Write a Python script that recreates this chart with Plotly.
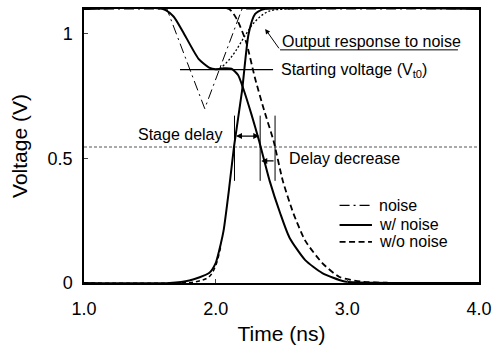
import plotly.graph_objects as go

# ---- data (time in ns, voltage in V) ----
noise_t = [1.0, 1.63, 1.917, 2.2, 4.0]
noise_v = [1.1, 1.1, 0.70, 1.1, 1.1]

wn_t = [1.0, 1.6, 1.68, 1.75, 1.87, 1.95, 2.0, 2.06, 2.12, 2.17, 2.21, 2.27, 2.33, 2.41, 2.49, 2.56, 2.68, 2.81, 2.98, 3.2, 4.0]
wn_v = [1.1, 1.1, 1.07, 1.01, 0.90, 0.865, 0.858, 0.862, 0.86, 0.835, 0.78, 0.68, 0.57, 0.41, 0.28, 0.183, 0.092, 0.04, 0.006, 0.001, 0.0]

wo_t = [1.0, 2.1, 2.16, 2.23, 2.30, 2.37, 2.44, 2.51, 2.59, 2.68, 2.81, 2.94, 3.1, 3.3, 4.0]
wo_v = [1.1, 1.1, 1.06, 0.97, 0.82, 0.69, 0.57, 0.41, 0.28, 0.17, 0.08, 0.024, 0.006, 0.001, 0.0]

in_t = [1.0, 1.65, 1.8, 1.95, 2.0, 2.04, 2.06, 2.10, 2.14, 2.2, 2.25, 2.3, 2.37, 4.0]
in_v = [0.0, 0.0, 0.01, 0.04, 0.08, 0.16, 0.21, 0.37, 0.55, 0.77, 1.0, 1.08, 1.1, 1.1]

in2_t = [1.0, 1.7, 1.85, 1.95, 2.0, 2.04]
in2_v = [0.0, 0.0, 0.005, 0.025, 0.07, 0.15]

resp_t = [2.0, 2.04, 2.1, 2.15, 2.22, 2.3, 2.4, 2.55, 2.7]
resp_v = [0.857, 0.865, 0.895, 0.93, 0.99, 1.05, 1.09, 1.1, 1.1]

threshold = 0.546
vt0 = 0.857

x_ticks = [1.0, 2.0, 3.0, 4.0]
x_ticktext = ["1.0", "2.0", "3.0", "4.0"]
y_ticks = [0, 0.5, 1]
y_ticktext = ["0", "0.5", "1"]

legend_labels = ["noise", "w/ noise", "w/o noise"]

FONT = "Arial, Liberation Sans, sans-serif"

NOISE_DASH = "10px,4px,2px,4px"
WO_DASH = "6px,3.5px"

fig = go.Figure()

# threshold line
fig.add_trace(go.Scatter(x=[1.0, 4.0], y=[threshold, threshold], mode="lines",
                         line=dict(color="#555", width=1, dash="3px,2px"), showlegend=False, hoverinfo="skip"))

# input ramps
fig.add_trace(go.Scatter(x=in2_t, y=in2_v, mode="lines", line=dict(color="black", width=1.5, dash="4px,3px", shape="spline"),
                         showlegend=False))
fig.add_trace(go.Scatter(x=in_t, y=in_v, mode="lines", line=dict(color="black", width=2, shape="spline", smoothing=0.6),
                         showlegend=False))

# output response to noise (dotted)
fig.add_trace(go.Scatter(x=resp_t, y=resp_v, mode="lines", line=dict(color="black", width=1.3, dash="2px,2px", shape="spline"),
                         showlegend=False))

# main series
fig.add_trace(go.Scatter(x=noise_t, y=noise_v, mode="lines", name=legend_labels[0], showlegend=False,
                         line=dict(color="black", width=1, dash=NOISE_DASH)))
fig.add_trace(go.Scatter(x=wn_t, y=wn_v, mode="lines", name=legend_labels[1], showlegend=False,
                         line=dict(color="black", width=2, shape="spline", smoothing=0.6)))
fig.add_trace(go.Scatter(x=wo_t, y=wo_v, mode="lines", name=legend_labels[2], showlegend=False,
                         line=dict(color="black", width=1.8, dash=WO_DASH, shape="spline", smoothing=0.6)))

# starting voltage line
fig.add_shape(type="line", x0=1.729, x1=2.436, y0=vt0, y1=vt0, line=dict(color="black", width=1.2))
# vertical markers
for xv in [2.143, 2.338, 2.451]:
    fig.add_shape(type="line", x0=xv, x1=xv, y0=0.41, y1=0.672, line=dict(color="black", width=1))
# underline for "Output response to noise"
fig.add_shape(type="line", x0=2.489, x1=3.84, y0=0.936, y1=0.936, line=dict(color="black", width=1))

# arrows
fig.add_annotation(x=2.376, y=1.02, ax=2.489, ay=0.936, axref="x", ayref="y", xref="x", yref="y",
                   text="", showarrow=True, arrowhead=2, arrowsize=1, arrowwidth=1, arrowcolor="black")
fig.add_annotation(x=2.331, y=0.59, ax=2.143, ay=0.59, axref="x", ayref="y", xref="x", yref="y",
                   text="", showarrow=True, arrowhead=2, arrowside="end+start", arrowsize=1, arrowwidth=1.2, arrowcolor="black")
fig.add_annotation(x=2.346, y=0.49, ax=2.451, ay=0.49, axref="x", ayref="y", xref="x", yref="y",
                   text="", showarrow=True, arrowhead=2, arrowsize=1, arrowwidth=1.2, arrowcolor="black")

ann_font = dict(family=FONT, size=16, color="black")
fig.add_annotation(x=2.49, y=0.97, xref="x", yref="y", text="Output response to noise", showarrow=False,
                   xanchor="left", yanchor="middle", font=ann_font)
fig.add_annotation(x=2.482, y=0.855, xref="x", yref="y", text="Starting voltage (V<sub>t0</sub>)", showarrow=False,
                   xanchor="left", yanchor="middle", font=ann_font)
fig.add_annotation(x=2.072, y=0.598, xref="x", yref="y", text="Stage delay", showarrow=False,
                   xanchor="right", yanchor="middle", font=ann_font)
fig.add_annotation(x=2.54, y=0.50, xref="x", yref="y", text="Delay decrease", showarrow=False,
                   xanchor="left", yanchor="middle", font=ann_font)

# manual legend (paper coordinates)
leg_y = [0.283, 0.212, 0.150]
leg_styles = [dict(width=1.2, dash=NOISE_DASH), dict(width=2, dash="solid"), dict(width=1.8, dash=WO_DASH)]
for yy, lab, st in zip(leg_y, legend_labels, leg_styles):
    fig.add_shape(type="line", xref="paper", yref="paper", x0=0.647, x1=0.729, y0=yy, y1=yy,
                  line=dict(color="black", **st))
    fig.add_annotation(x=0.742, y=yy, xref="paper", yref="paper", text=lab, showarrow=False,
                       xanchor="left", yanchor="middle", font=dict(family=FONT, size=16, color="black"))

fig.update_layout(
    width=499, height=350,
    margin=dict(l=84, r=16, t=7, b=67),
    paper_bgcolor="white", plot_bgcolor="white",
    font=dict(family=FONT, size=16, color="black"),
    showlegend=False,
)
fig.update_xaxes(range=[1.0, 4.0], tickvals=x_ticks, ticktext=x_ticktext, ticks="inside", ticklen=4,
                 showline=True, linecolor="black", linewidth=1.5, mirror=True, showgrid=False, zeroline=False,
                 ticklabelstandoff=9,
                 title=dict(text="Time (ns)", font=dict(size=21), standoff=8), tickfont=dict(size=18))
fig.update_yaxes(range=[0, 1.1], tickvals=y_ticks, ticktext=y_ticktext, ticks="inside", ticklen=4,
                 showline=True, linecolor="black", linewidth=1.5, mirror=True, showgrid=False, zeroline=False,
                 ticklabelstandoff=6,
                 title=dict(text="Voltage (V)", font=dict(size=21), standoff=14), tickfont=dict(size=18))

fig.write_html("out.html")
